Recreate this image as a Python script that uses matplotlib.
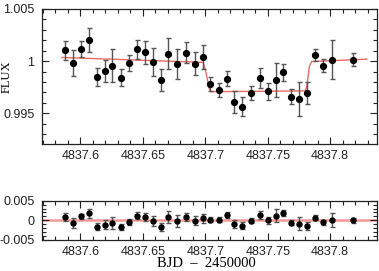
import numpy as np
import matplotlib
matplotlib.use("Agg")
import matplotlib.pyplot as plt
from matplotlib.ticker import MultipleLocator

plt.rcParams['font.family'] = 'Liberation Sans'
plt.rcParams['axes.unicode_minus'] = False

# time (BJD - 2450000)
bjd = [4837.5878, 4837.5942, 4837.6004, 4837.6070, 4837.6135, 4837.6196, 4837.6255,
       4837.6322, 4837.6389, 4837.6455, 4837.6519, 4837.6578, 4837.6642, 4837.6703,
       4837.6773, 4837.6845, 4837.6917, 4837.6979, 4837.7040, 4837.7112, 4837.7173,
       4837.7232, 4837.7294, 4837.7366, 4837.7438, 4837.7499, 4837.7564, 4837.7622,
       4837.7686, 4837.7753, 4837.7814, 4837.7878, 4837.7942, 4837.8017, 4837.8180]
flux = [1.00102, 0.99984, 1.00118, 1.00202, 0.99849, 0.99904, 0.99958,
        0.99839, 0.99984, 1.00115, 1.00083, 0.99990, 0.99823, 1.00073,
        0.99974, 1.00082, 0.99974, 1.00038, 0.99779, 0.99724, 0.99833,
        0.99609, 0.99563, 0.99695, 0.99839, 0.99712, 0.99820, 0.99894,
        0.99660, 0.99638, 0.99695, 1.00061, 0.99958, 1.00015, 1.00013]
err = [0.00094, 0.00125, 0.00074, 0.00115, 0.00087, 0.00106, 0.00154,
       0.00082, 0.00077, 0.00091, 0.00106, 0.00135, 0.00106, 0.00151,
       0.00147, 0.00099, 0.00109, 0.00115, 0.00064, 0.00067, 0.00070,
       0.00109, 0.00091, 0.00069, 0.00096, 0.00082, 0.00163, 0.00082,
       0.00070, 0.00163, 0.00106, 0.00058, 0.00058, 0.00186, 0.00061]
resid = [0.00086, -0.00058, 0.00100, 0.00175, -0.00165, -0.00108, -0.00058,
         -0.00165, -0.00033, 0.00118, 0.00093, -0.00015, -0.00165, 0.00085,
         -0.00015, 0.00090, -0.00010, 0.00055, 0.00015, 0.00015, 0.00135,
         -0.00095, -0.00140, -0.00010, 0.00137, 0.00000, 0.00117, 0.00190,
         -0.00058, -0.00083, -0.00140, 0.00067, -0.00050, 0.00010, 0.00000]

# transit model curve
model_t = [4837.5852, 4837.6981, 4837.7001, 4837.7017, 4837.7029, 4837.7045,
           4837.7798, 4837.7810, 4837.7820, 4837.7833, 4837.7852, 4837.8293]
model_f = [1.00035, 0.99988, 0.99916, 0.99820, 0.99743, 0.99707,
           0.99714, 0.99743, 0.99820, 0.99948, 0.99996, 1.00019]

fig = plt.figure(figsize=(3.79, 2.71), dpi=100)
ax1 = fig.add_axes([0.1108, 0.4686, 0.8839, 0.4982])
ax2 = fig.add_axes([0.1108, 0.1144, 0.8839, 0.1450])

ax1.plot(model_t, model_f, color='#ec6a62', lw=1.0, zorder=1)
ax1.errorbar(bjd, flux, yerr=err, fmt='o', color='black', ms=4.2,
             ecolor='#555555', elinewidth=1.0, capsize=1.8, capthick=1.0, zorder=3)

ax2.axhline(0, color='#f39a95', lw=1.8, zorder=1)
ax2.errorbar(bjd, resid, yerr=err, fmt='o', color='black', ms=3.6,
             ecolor='#555555', elinewidth=1.0, capsize=1.8, capthick=1.0, zorder=3)

for ax in (ax1, ax2):
    ax.set_xlim(4837.5692, 4837.8375)
    ax.xaxis.set_major_locator(MultipleLocator(0.05))
    ax.xaxis.set_minor_locator(MultipleLocator(0.01))
    ax.yaxis.set_major_locator(MultipleLocator(0.005))
    ax.yaxis.set_minor_locator(MultipleLocator(0.001))
    ax.tick_params(which='both', direction='in', top=True, right=True,
                   labelsize=9, width=0.8, colors='#222222')
    ax.tick_params(which='major', length=5)
    ax.tick_params(which='minor', length=2.8)
    ax.tick_params(axis='y', pad=5.5)
    ax.tick_params(axis='x', pad=4.5)
    for s in ax.spines.values():
        s.set_linewidth(0.9)
        s.set_color('#222222')

ax1.set_ylim(0.99205, 1.005)
ax1.set_xticks([4837.6, 4837.65, 4837.7, 4837.75, 4837.8])
ax1.set_xticklabels(['4837.6', '4837.65', '4837.7', '4837.75', '4837.8'])
ax1.set_yticks([0.995, 1.0, 1.005])
ax1.set_yticklabels(['0.995', '1', '1.005'])
ax1.set_ylabel('FLUX', family='Liberation Serif', fontsize=9, va='center')
ax1.yaxis.set_label_coords(-0.106, 0.5)

ax2.set_ylim(-0.005, 0.005)
ax2.set_xticks([4837.6, 4837.65, 4837.7, 4837.75, 4837.8])
ax2.set_xticklabels(['4837.6', '4837.65', '4837.7', '4837.75', '4837.8'])
ax2.set_yticks([-0.005, 0.0, 0.005])
ax2.set_yticklabels(['-0.005', '0', '0.005'])
ax2.set_xlabel('BJD  \u2013  2450000', family='Liberation Serif', fontsize=10.5, va='center')
ax2.xaxis.set_label_coords(0.49, -0.60)

fig.savefig('out.png', dpi=100)
